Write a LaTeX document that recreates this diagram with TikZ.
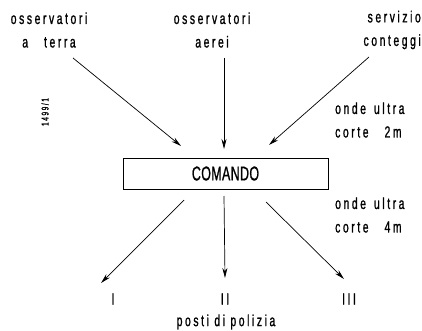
\documentclass[tikz,border=0pt]{standalone}
\usepackage{fontspec}
\setmainfont[LetterSpace=16,FakeStretch=0.65,FakeBold=1]{Liberation Sans}
\newfontfamily\cmdfont[LetterSpace=2,FakeStretch=0.62,FakeBold=1]{Liberation Sans}
\usetikzlibrary{arrows.meta}
\begin{document}
\begin{tikzpicture}[x=1pt,y=-1pt,
  lbl/.style={font=\fontsize{16}{23.5}\selectfont, inner sep=0pt, align=center},
  arr/.style={line width=0.7pt, -{Stealth[length=10pt,width=5pt]}}]
\useasboundingbox (0,0) rectangle (422,331);
\node[lbl] (t1) at (49,30) {osservatori\\a\quad terra};
\node[lbl] (t2) at (212,30) {osservatori\\aerei};
\node[lbl,align=right,anchor=east] (t3) at (421,30) {servizio\\conteggi};
\node[lbl,align=left,anchor=west] (w1) at (335,120) {onde\enspace ultra\\corte\quad 2m};
\node[lbl,align=left,anchor=west] (w2) at (335,215) {onde\enspace ultra\\corte\quad 4m};
\node[lbl,rotate=90,font=\fontsize{10}{11}\selectfont] (code) at (45,112) {1499/1};
\node[draw, line width=0.9pt, minimum width=205pt, minimum height=31pt, inner sep=0pt,
  font=\cmdfont\fontsize{20}{22}\selectfont] (cmd) at (225.5,173.5) {COMANDO};
\node[lbl] (p1) at (113,299) {I};
\node[lbl] (p2) at (225,299) {II};
\node[lbl] (p3) at (349,299) {III};
\node[lbl] (pp) at (226,322) {posti di polizia};
\coordinate (s1) at (73,58); \coordinate (e1) at (181,146);
\coordinate (s2) at (224,58); \coordinate (e2) at (224,149);
\coordinate (s3) at (369,57); \coordinate (e3) at (269,145);
\coordinate (b1) at (184,200); \coordinate (f1) at (101,283);
\coordinate (b2) at (224,196); \coordinate (f2) at (225,278);
\coordinate (b3) at (266,202); \coordinate (f3) at (344,279);
\draw[arr] (s1) -- (e1);
\draw[arr] (s2) -- (e2);
\draw[arr] (s3) -- (e3);
\draw[arr] (b1) -- (f1);
\draw[arr] (b2) -- (f2);
\draw[arr] (b3) -- (f3);
\end{tikzpicture}
\end{document}
